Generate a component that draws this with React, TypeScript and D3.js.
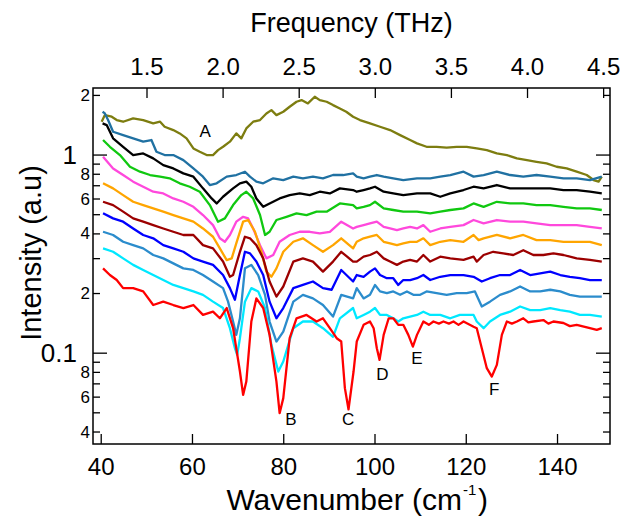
import React from "react";
import * as d3 from "d3";

const W = 622;
const H = 520;
const M = { left: 93, right: 12, top: 88, bottom: 76 };

const xDomain = [38.2, 151.5];
const yDomain = [0.0348, 2.18];
const THZ_TO_CM = 33.356;

const xTicks = [40, 60, 80, 100, 120, 140];
const thzTicks = [1.5, 2.0, 2.5, 3.0, 3.5, 4.0, 4.5];
const yTicks = [0.04, 0.05, 0.06, 0.07, 0.08, 0.09, 0.1, 0.2, 0.3, 0.4, 0.5, 0.6, 0.7, 0.8, 0.9, 1, 2];
const yTickLabels: Record<string, string> = {
  "0.04": "4", "0.06": "6", "0.08": "8", "0.1": "0.1",
  "0.2": "2", "0.4": "4", "0.6": "6", "0.8": "8", "1": "1", "2": "2",
};
const yMajor = [0.1, 1];

type P = [number, number];

const olive: P[] = [
  [40.1,1.473],[40.8,1.591],[42.3,1.561],[43.4,1.502],[44.8,1.473],[47.0,1.531],[49.2,1.502],[51.4,1.445],
  [52.9,1.473],[53.9,1.390],[55.8,1.337],[57.2,1.286],[58.7,1.214],[60.2,1.080],[61.6,1.039],[63.1,1.000],
  [64.5,1.000],[65.6,1.059],[66.7,1.101],[68.2,1.168],[69.6,1.286],[70.7,1.214],[71.8,1.363],[73.3,1.473],
  [74.8,1.502],[76.2,1.622],[77.3,1.686],[78.4,1.591],[79.9,1.654],[81.3,1.753],[82.8,1.858],[83.9,1.894],
  [85.3,1.822],[86.8,1.969],[87.9,1.894],[89.4,1.858],[90.8,1.787],[92.3,1.719],[93.7,1.654],[95.2,1.561],
  [96.7,1.502],[98.9,1.445],[101.1,1.390],[103.3,1.337],[105.5,1.261],[107.7,1.191],[109.2,1.145],[111.3,1.101],
  [113.5,1.101],[115.7,1.089],[117.9,1.101],[120.1,1.101],[122.3,1.080],[124.5,1.059],[126.7,1.019],[128.9,1.000],
  [131.1,0.962],[133.3,0.943],[135.4,0.925],[137.6,0.908],[139.8,0.873],[142.0,0.856],[144.2,0.824],[146.4,0.793],
  [147.9,0.748],[149.0,0.734],[149.7,0.778],
];

const steel1: P[] = [
  [40.3,1.654],[40.8,1.622],[41.5,1.502],[42.6,1.311],[44.8,1.261],[47.0,1.214],[49.2,1.168],[51.0,1.191],
  [52.1,1.039],[53.9,1.000],[55.8,1.000],[58.0,0.943],[60.2,0.856],[62.3,0.778],[63.8,0.706],[65.3,0.720],
  [67.5,0.778],[69.6,0.793],[71.5,0.824],[72.6,0.778],[74.0,0.734],[75.5,0.720],[77.7,0.763],[79.9,0.748],
  [82.1,0.778],[84.2,0.763],[86.4,0.778],[88.6,0.763],[90.8,0.793],[93.0,0.793],[95.2,0.808],[96.0,0.778],
  [97.5,0.763],[98.9,0.778],[100.4,0.793],[101.9,0.778],[104.0,0.763],[106.2,0.748],[109.2,0.763],[112.1,0.763],
  [114.3,0.778],[116.5,0.793],[119.4,0.824],[121.6,0.778],[123.8,0.793],[126.7,0.824],[129.6,0.793],[132.5,0.778],
  [135.4,0.793],[138.4,0.778],[141.3,0.763],[144.2,0.763],[147.1,0.748],[149.7,0.778],
];

const black: P[] = [
  [40.3,1.445],[41.2,1.417],[42.6,1.214],[44.8,1.101],[47.0,1.000],[49.2,1.019],[51.4,0.962],[53.6,0.890],
  [55.8,0.856],[58.0,0.808],[60.2,0.778],[62.3,0.679],[64.2,0.604],[65.3,0.570],[66.7,0.616],[68.9,0.679],
  [70.4,0.720],[71.8,0.734],[72.9,0.692],[74.0,0.604],[75.5,0.548],[76.9,0.570],[79.1,0.604],[81.3,0.628],
  [83.5,0.640],[85.7,0.628],[87.9,0.653],[90.1,0.640],[92.3,0.679],[95.2,0.666],[96.0,0.653],[97.5,0.666],
  [98.9,0.679],[100.0,0.692],[101.9,0.653],[104.0,0.640],[106.2,0.628],[109.2,0.640],[112.1,0.640],[114.3,0.616],
  [116.5,0.640],[119.4,0.666],[121.6,0.692],[123.8,0.679],[126.7,0.706],[129.6,0.679],[132.5,0.679],[135.4,0.679],
  [138.4,0.679],[141.3,0.666],[144.2,0.666],[147.1,0.653],[149.7,0.640],
];

const green: P[] = [
  [40.4,1.191],[41.9,1.101],[44.1,1.000],[46.3,0.873],[48.5,0.824],[50.7,0.793],[52.9,0.778],[55.0,0.763],
  [57.2,0.720],[59.4,0.692],[61.6,0.653],[63.8,0.559],[65.6,0.461],[67.1,0.479],[68.9,0.559],[70.7,0.628],
  [71.8,0.653],[73.3,0.604],[74.8,0.498],[75.9,0.395],[76.9,0.410],[78.4,0.470],[80.6,0.488],[82.8,0.508],
  [85.0,0.498],[87.2,0.518],[89.4,0.518],[92.3,0.570],[95.2,0.559],[96.0,0.538],[97.5,0.548],[98.9,0.559],
  [100.0,0.581],[101.9,0.538],[104.0,0.528],[106.2,0.518],[109.2,0.518],[112.1,0.508],[114.3,0.518],[116.5,0.528],
  [119.4,0.538],[121.6,0.570],[123.8,0.548],[126.7,0.581],[129.6,0.570],[132.5,0.570],[135.4,0.559],[138.4,0.559],
  [141.3,0.548],[144.2,0.538],[147.1,0.538],[149.7,0.528],
];

const magenta: P[] = [
  [40.4,0.981],[42.6,0.856],[44.8,0.793],[47.0,0.734],[49.2,0.692],[51.4,0.653],[53.6,0.640],[55.8,0.604],
  [58.0,0.581],[60.2,0.548],[62.3,0.498],[64.5,0.443],[66.0,0.380],[67.1,0.365],[68.2,0.395],[69.6,0.461],
  [71.1,0.488],[72.2,0.479],[73.3,0.426],[74.8,0.351],[76.2,0.301],[77.7,0.313],[79.1,0.365],[81.3,0.395],
  [83.5,0.410],[85.7,0.410],[87.9,0.402],[90.1,0.410],[92.6,0.461],[95.2,0.426],[96.0,0.434],[97.5,0.443],
  [98.9,0.452],[100.4,0.461],[101.9,0.434],[103.3,0.426],[104.8,0.418],[106.2,0.426],[107.7,0.434],[109.2,0.426],
  [110.6,0.443],[112.1,0.410],[114.3,0.426],[116.5,0.434],[119.4,0.443],[121.6,0.470],[123.8,0.452],[126.7,0.470],
  [129.6,0.461],[132.5,0.461],[135.4,0.452],[138.4,0.443],[141.3,0.443],[144.2,0.443],[147.1,0.434],[149.7,0.426],
];

const orange: P[] = [
  [40.4,0.720],[42.6,0.679],[44.8,0.628],[47.0,0.581],[49.2,0.559],[51.4,0.538],[53.6,0.518],[55.8,0.498],
  [58.0,0.479],[60.2,0.461],[62.3,0.426],[64.5,0.387],[66.0,0.338],[67.5,0.295],[68.6,0.301],[69.6,0.358],
  [71.1,0.461],[72.2,0.470],[73.7,0.410],[75.1,0.325],[76.2,0.258],[77.3,0.243],[78.4,0.268],[79.9,0.325],
  [82.1,0.365],[84.2,0.380],[86.4,0.351],[88.6,0.325],[90.8,0.351],[92.6,0.380],[95.2,0.338],[96.0,0.365],
  [97.5,0.380],[98.9,0.387],[100.4,0.395],[101.9,0.365],[103.3,0.358],[104.8,0.351],[106.2,0.358],[107.7,0.365],
  [109.2,0.365],[110.6,0.380],[112.1,0.351],[114.3,0.365],[116.5,0.372],[119.4,0.365],[121.6,0.395],[122.7,0.372],
  [123.8,0.380],[126.7,0.395],[129.6,0.380],[132.5,0.395],[135.4,0.372],[138.4,0.372],[141.3,0.365],[144.2,0.365],
  [147.1,0.365],[149.7,0.351],
];

const darkred: P[] = [
  [40.4,0.581],[42.6,0.559],[44.8,0.518],[47.0,0.479],[49.2,0.461],[51.4,0.443],[53.6,0.426],[55.8,0.410],
  [58.0,0.395],[60.2,0.395],[62.3,0.351],[64.5,0.338],[66.7,0.290],[68.2,0.243],[68.9,0.248],[70.4,0.325],
  [71.5,0.387],[72.6,0.380],[74.0,0.351],[75.5,0.301],[76.9,0.230],[78.4,0.193],[79.9,0.217],[82.1,0.290],
  [84.2,0.301],[86.4,0.290],[88.6,0.258],[90.8,0.290],[92.6,0.325],[95.2,0.290],[96.0,0.290],[97.5,0.307],
  [98.9,0.313],[100.4,0.325],[101.9,0.301],[103.3,0.290],[104.8,0.279],[106.2,0.290],[107.7,0.296],[109.2,0.290],
  [110.6,0.313],[112.1,0.290],[114.3,0.307],[116.5,0.301],[119.4,0.296],[121.6,0.307],[122.3,0.290],[123.8,0.313],
  [125.9,0.325],[128.1,0.319],[130.3,0.313],[132.5,0.331],[134.7,0.313],[136.9,0.313],[139.1,0.319],[141.3,0.313],
  [144.2,0.301],[147.1,0.296],[149.7,0.290],
];

const blue: P[] = [
  [40.4,0.508],[42.6,0.479],[44.8,0.461],[47.0,0.426],[49.2,0.395],[51.4,0.380],[53.6,0.351],[55.8,0.338],
  [58.0,0.325],[60.2,0.301],[62.3,0.290],[64.5,0.279],[66.7,0.248],[68.2,0.213],[69.3,0.186],[70.4,0.248],
  [71.5,0.325],[72.6,0.319],[74.0,0.290],[75.5,0.248],[76.9,0.182],[78.4,0.150],[79.9,0.169],[82.1,0.213],
  [84.2,0.221],[86.4,0.230],[88.6,0.213],[90.5,0.209],[92.6,0.263],[95.2,0.230],[96.0,0.248],[97.5,0.243],
  [98.9,0.258],[100.0,0.268],[101.1,0.248],[102.6,0.239],[104.0,0.239],[105.1,0.221],[106.2,0.234],[107.7,0.234],
  [109.2,0.239],[110.6,0.248],[112.1,0.234],[114.3,0.243],[116.5,0.248],[119.4,0.248],[121.6,0.243],[123.4,0.230],
  [125.2,0.239],[127.4,0.248],[129.6,0.248],[131.8,0.263],[134.0,0.248],[136.2,0.253],[138.4,0.258],[140.6,0.248],
  [142.7,0.243],[144.9,0.239],[147.1,0.234],[149.7,0.234],
];

const steel2: P[] = [
  [40.4,0.410],[42.6,0.395],[44.8,0.365],[47.0,0.351],[49.2,0.338],[51.4,0.313],[53.6,0.301],[55.8,0.284],
  [58.0,0.268],[60.2,0.263],[62.3,0.248],[64.5,0.230],[66.7,0.213],[67.8,0.182],[68.9,0.1445],[69.6,0.1237],
  [70.4,0.150],[71.5,0.268],[72.9,0.279],[74.4,0.248],[75.9,0.197],[76.9,0.1445],[78.4,0.1145],[79.9,0.1286],
  [82.1,0.182],[84.2,0.197],[86.4,0.189],[88.6,0.175],[90.8,0.153],[92.6,0.197],[95.2,0.189],[96.0,0.213],
  [97.5,0.189],[98.9,0.197],[100.0,0.221],[101.1,0.205],[102.6,0.201],[104.0,0.205],[105.5,0.197],[107.0,0.205],
  [108.4,0.197],[109.9,0.197],[111.3,0.205],[113.5,0.201],[115.7,0.197],[117.9,0.201],[120.1,0.201],[121.9,0.205],
  [123.4,0.172],[125.2,0.182],[127.4,0.197],[129.6,0.205],[131.8,0.217],[134.0,0.205],[136.2,0.205],[138.4,0.209],
  [140.6,0.205],[142.7,0.197],[144.9,0.193],[147.1,0.193],[149.7,0.193],
];

const cyan: P[] = [
  [40.4,0.338],[42.6,0.325],[44.8,0.301],[47.0,0.279],[49.2,0.263],[51.4,0.248],[53.6,0.234],[55.8,0.221],
  [58.0,0.213],[60.2,0.205],[62.3,0.197],[64.5,0.182],[66.7,0.169],[68.2,0.1337],[69.3,0.1059],[69.8,0.0981],
  [70.4,0.119],[71.5,0.182],[72.9,0.213],[74.4,0.205],[75.9,0.169],[77.3,0.1101],[78.8,0.0808],[79.9,0.0908],
  [82.1,0.1337],[84.2,0.1445],[86.4,0.1445],[88.6,0.1337],[90.8,0.121],[92.3,0.150],[95.2,0.169],[96.0,0.150],
  [97.5,0.156],[98.9,0.162],[100.0,0.169],[101.1,0.156],[102.6,0.156],[104.0,0.150],[105.1,0.1445],[106.2,0.150],
  [107.7,0.153],[109.2,0.156],[110.6,0.162],[112.1,0.156],[114.3,0.156],[116.5,0.150],[118.6,0.156],[121.6,0.156],
  [122.3,0.1445],[123.8,0.1337],[125.2,0.1445],[127.4,0.156],[129.6,0.162],[131.8,0.172],[134.0,0.165],[136.2,0.165],
  [138.4,0.169],[140.6,0.165],[142.7,0.162],[144.9,0.156],[147.1,0.156],[149.7,0.153],
];

const red: P[] = [
  [40.4,0.268],[41.9,0.248],[43.4,0.234],[44.8,0.213],[47.0,0.213],[49.2,0.205],[51.4,0.175],[53.6,0.182],
  [55.8,0.175],[58.0,0.169],[60.2,0.175],[62.3,0.156],[64.5,0.162],[66.0,0.150],[67.5,0.169],[68.9,0.1337],
  [70.4,0.0808],[71.1,0.0616],[71.8,0.0719],[72.9,0.1445],[74.0,0.189],[75.5,0.169],[76.9,0.1237],[78.4,0.0719],
  [79.1,0.0498],[79.9,0.0593],[81.3,0.119],[82.8,0.150],[85.0,0.156],[87.2,0.1445],[88.6,0.150],[90.1,0.1337],
  [91.6,0.119],[92.6,0.1145],[93.4,0.0666],[94.2,0.052],[95.3,0.0808],[96.0,0.1145],[97.5,0.139],[98.9,0.1445],
  [99.7,0.1337],[100.4,0.1059],[101.0,0.0925],[101.9,0.1237],[103.0,0.150],[104.0,0.150],[105.1,0.139],[106.2,0.139],
  [107.3,0.1237],[108.3,0.108],[109.2,0.1237],[110.6,0.1445],[111.8,0.139],[112.8,0.1445],[114.0,0.141],[115.0,0.1445],
  [116.2,0.141],[117.2,0.1445],[118.3,0.139],[119.4,0.1445],
  [121.6,0.136],[122.3,0.1337],[123.4,0.1059],[124.5,0.084],[125.6,0.0762],[126.7,0.0873],[127.8,0.1237],[128.9,0.1445],
  [130.0,0.141],[131.1,0.1445],[132.5,0.150],[133.6,0.143],[134.7,0.1445],[136.9,0.147],[138.0,0.141],[139.1,0.1445],
  [141.3,0.142],[142.7,0.137],[144.2,0.139],[147.1,0.1337],[148.6,0.131],[149.7,0.1337],
];

const seriesList: { name: string; data: P[]; color: string }[] = [
  { name: "olive", data: olive, color: "#7d7d10" },
  { name: "steel1", data: steel1, color: "#2071a2" },
  { name: "black", data: black, color: "#000000" },
  { name: "green", data: green, color: "#10c810" },
  { name: "magenta", data: magenta, color: "#ff48dc" },
  { name: "orange", data: orange, color: "#ffa500" },
  { name: "darkred", data: darkred, color: "#9c0000" },
  { name: "blue", data: blue, color: "#0000ff" },
  { name: "steel2", data: steel2, color: "#2b8ccc" },
  { name: "cyan", data: cyan, color: "#00e8ff" },
  { name: "red", data: red, color: "#ff0000" },
];

const peakLabels: { t: string; x: number; y: number }[] = [
  { t: "A", x: 62.8, y: 1.316 },
  { t: "B", x: 81.6, y: 0.046 },
  { t: "C", x: 94.1, y: 0.046 },
  { t: "D", x: 101.6, y: 0.0785 },
  { t: "E", x: 109.2, y: 0.0945 },
  { t: "F", x: 126.1, y: 0.0652 },
];

const FONT = "Liberation Sans, Arial, sans-serif";

export default function App() {
  const x = d3.scaleLinear().domain(xDomain).range([M.left, W - M.right]);
  const y = d3.scaleLog().domain(yDomain).range([H - M.bottom, M.top]);
  const line = d3
    .line<P>()
    .x((d) => x(d[0]))
    .y((d) => y(d[1]));
  const x0 = M.left, x1 = W - M.right, y0 = M.top, y1 = H - M.bottom;

  return (
    <svg width={W} height={H} style={{ position: "absolute", left: 0, top: 0, background: "#fff", fontFamily: FONT }}>
      <defs>
        <clipPath id="plot">
          <rect x={x0} y={y0} width={x1 - x0} height={y1 - y0} />
        </clipPath>
      </defs>
      <rect x={0} y={0} width={W} height={H} fill="#fff" />
      <g clipPath="url(#plot)">
        {seriesList.map((s) => (
          <path key={s.name} d={line(s.data) || ""} fill="none" stroke={s.color} strokeWidth={2.3} strokeLinejoin="round" />
        ))}
      </g>
      {peakLabels.map((p) => (
        <text key={p.t} x={x(p.x)} y={y(p.y)} textAnchor="middle" dominantBaseline="central" fontSize={17} fill="#000">
          {p.t}
        </text>
      ))}
      <rect x={x0} y={y0} width={x1 - x0} height={y1 - y0} fill="none" stroke="#000" strokeWidth={1.5} />
      {xTicks.map((t) => (
        <g key={"xb" + t}>
          <line x1={x(t)} x2={x(t)} y1={y1} y2={y1 - 10} stroke="#000" strokeWidth={1.3} />
          <text x={x(t)} y={475} textAnchor="middle" fontSize={24}>{t}</text>
        </g>
      ))}
      {thzTicks.map((t) => (
        <g key={"xt" + t}>
          <line x1={x(t * THZ_TO_CM)} x2={x(t * THZ_TO_CM)} y1={y0} y2={y0 + 10} stroke="#000" strokeWidth={1.3} />
          <text x={x(t * THZ_TO_CM)} y={75} textAnchor="middle" fontSize={24}>{t.toFixed(1)}</text>
        </g>
      ))}
      {yTicks.map((t) => {
        const major = yMajor.includes(t);
        const len = major ? 14 : 7;
        const lab = yTickLabels[String(t)];
        return (
          <g key={"y" + t}>
            <line x1={x0} x2={x0 + len} y1={y(t)} y2={y(t)} stroke="#000" strokeWidth={1.3} />
            <line x1={x1} x2={x1 - len} y1={y(t)} y2={y(t)} stroke="#000" strokeWidth={1.3} />
            {lab && (
              <text
                x={major ? 77 : 90}
                y={y(t)}
                textAnchor="end"
                dominantBaseline="central"
                fontSize={major ? 26 : 17}
              >
                {lab}
              </text>
            )}
          </g>
        );
      })}
      <text x={(x0 + x1) / 2} y={32} textAnchor="middle" fontSize={27}>Frequency (THz)</text>
      <text x={462} y={510} textAnchor="end" fontSize={30}>Wavenumber (cm</text>
      <text x={463} y={495} textAnchor="start" fontSize={15}>-1</text>
      <text x={478} y={510} textAnchor="start" fontSize={30}>)</text>
      <text transform={`translate(31, 253) rotate(-90)`} textAnchor="middle" dominantBaseline="central" fontSize={29}>
        Intensity (a.u)
      </text>
    </svg>
  );
}
